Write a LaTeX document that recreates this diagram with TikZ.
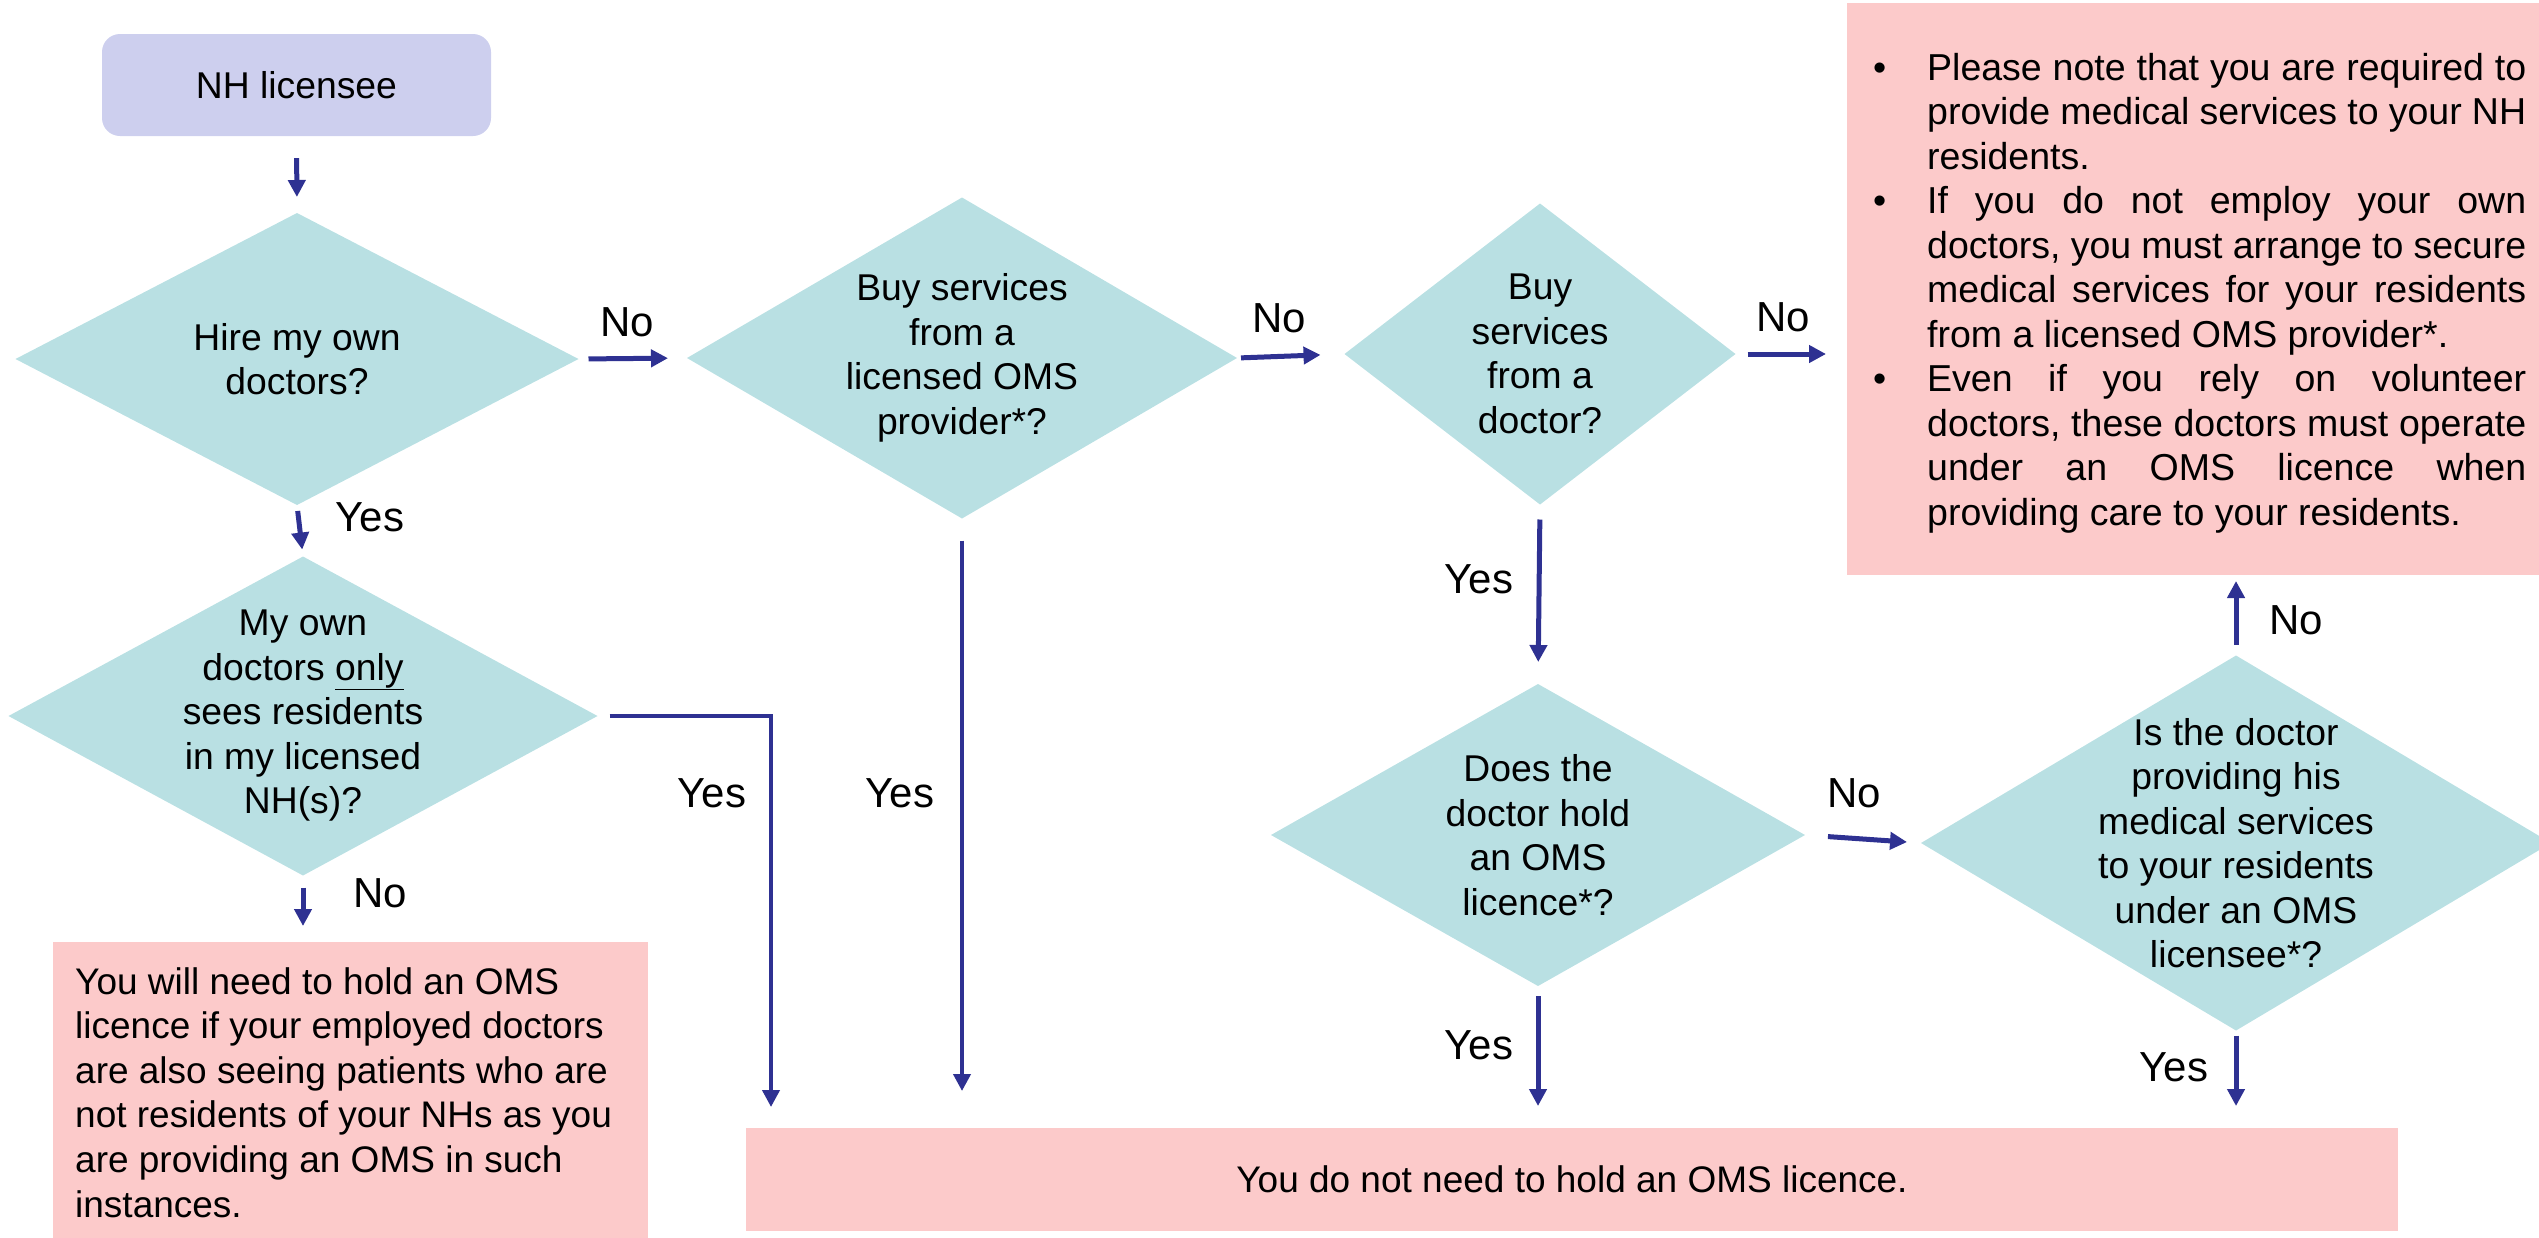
\documentclass[tikz,border=0pt]{standalone}
\usepackage{fontspec}
\setmainfont{Liberation Sans}
\usetikzlibrary{shapes.geometric,arrows.meta}
\definecolor{arrowblue}{RGB}{46,49,146}
\definecolor{diafill}{RGB}{185,224,227}
\definecolor{notefill}{RGB}{252,202,202}
\definecolor{startfill}{RGB}{205,207,238}
\newcommand\qfont{\fontsize{37.3pt}{44.5pt}\selectfont}
\newcommand\nfont{\fontsize{37pt}{44.6pt}\selectfont}
\newcommand\wfont{\fontsize{37.5pt}{44.5pt}\selectfont}
\newcommand\lfont{\fontsize{42pt}{48pt}\selectfont}
\newcommand\bitem[1]{{\hangindent=54pt\hangafter=1\noindent\makebox[54pt][l]{\textbullet}#1\par}}
\begin{document}
\begin{tikzpicture}[x=1pt,y=-1pt,
  dia/.style={diamond, fill=diafill, draw=none, inner sep=0pt, outer sep=0pt},
  dtext/.style={align=center, inner sep=0pt, font=\qfont},
  notebox/.style={fill=notefill, draw=none, anchor=north west, inner sep=0pt, outer sep=0pt},
  lbl/.style={inner sep=0pt, font=\lfont},
  arr/.style={draw=arrowblue, line width=5pt, -{Triangle[width=17pt,length=17pt]}}
]
\useasboundingbox (0,0) rectangle (2539,1237);
\clip (0,0) rectangle (2539,1237);

% start box
\node[fill=startfill, rounded corners=18pt, minimum width=389pt, minimum height=102pt,
      inner sep=0pt, font=\qfont] (nh) at (296.5,85) {NH licensee};

% decision diamonds
\node[dia, minimum width=563pt, minimum height=292pt] (d1) at (297,359) {};
\node[dtext] (t1) at (d1) {Hire my own\\doctors?};

\node[dia, minimum width=550pt, minimum height=321pt] (d2) at (962,358) {};
\node[dtext] (t2) at (d2) {Buy services\\from a\\licensed OMS\\provider*?};

\node[dia, minimum width=391pt, minimum height=301pt] (d3) at (1540,354) {};
\node[dtext] (t3) at (d3) {Buy\\services\\from a\\doctor?};

\node[dia, minimum width=534pt, minimum height=302pt] (d4) at (1538,835) {};
\node[dtext] (t4) at (d4) {Does the\\doctor hold\\an OMS\\licence*?};

\node[dia, minimum width=630pt, minimum height=375pt] (d5) at (2236,843) {};
\node[dtext] (t5) at (d5) {Is the doctor\\providing his\\medical services\\to your residents\\under an OMS\\licensee*?};

\node[dia, minimum width=589pt, minimum height=319pt] (d6) at (303,716) {};
\node[dtext] (t6) at (d6) {My own\\doctors \underline{only}\\sees residents\\in my licensed\\NH(s)?};

% outcome boxes
\node[notebox, minimum width=692pt, minimum height=572pt] (tr) at (1847,3) {};
\node[anchor=north west, inner sep=0pt, text width=653pt, align=justify, font=\wfont] (trtext) at (1873,53) {%
\hyphenpenalty=10000\exhyphenpenalty=10000
\bitem{Please note that you are required to\linebreak provide medical services to your NH\linebreak residents.}%
\bitem{If you do not employ your own\linebreak doctors, you must arrange to secure\linebreak medical services for your residents\linebreak from a licensed OMS provider*.}%
\bitem{Even if you rely on volunteer\linebreak doctors, these doctors must operate\linebreak under an OMS licence when\linebreak providing care to your residents.}};

\node[notebox, minimum width=595pt, minimum height=300pt] (bl) at (53,942) {};
\node[anchor=north west, inner sep=0pt, align=left, font=\nfont] (bltext) at (75,967)
  {You will need to hold an OMS\\licence if your employed doctors\\are also seeing patients who are\\not residents of your NHs as you\\are providing an OMS in such\\instances.};

\node[notebox, minimum width=1652pt, minimum height=103pt] (bot) at (746,1128) {};
\node[inner sep=0pt, font=\nfont] (bottext) at (bot.center) {You do not need to hold an OMS licence.};

% connectors
\draw[arr, shorten <=22pt, shorten >=16pt] (nh.south) -- (d1.north);
\draw[arr, shorten <=6pt, shorten >=7pt] (d1.south) -- (d6.north);
\draw[arr, shorten <=12pt, shorten >=16pt] (d6.south) -- (d6.south |- bl.north);
\draw[arr, shorten <=10pt, shorten >=19pt] (d1.east) -- (d2.west);
\draw[arr, shorten <=4pt, shorten >=24pt] (d2.east) -- (d3.west);
\draw[arr, shorten <=12pt, shorten >=21pt] (d3.east) -- (d3.east -| tr.west);
\draw[arr, shorten <=15pt, shorten >=22pt] (d3.south) -- (d4.north);
\draw[arr, shorten <=23pt, shorten >=14pt] (d4.east) -- (d5.west);
\draw[arr, shorten <=11pt, shorten >=6pt] (d5.north) -- (d5.north |- tr.south);
\draw[arr, shorten <=5pt, shorten >=22pt] (d5.south) -- (d5.south |- bot.north);
\draw[arr, shorten <=10pt, shorten >=22pt] (d4.south) -- (d4.south |- bot.north);
\draw[arr, line width=4pt, shorten <=22pt, shorten >=37pt] (d2.south) -- (d2.south |- bot.north);
\coordinate (c6) at (771,716);
\draw[arr, line width=4pt, shorten <=12pt, shorten >=21pt] (d6.east) -- (c6) -- (c6 |- bot.north);

% branch labels
\node[lbl] (l1) at (627,322) {No};
\node[lbl] (l2) at (370,517) {Yes};
\node[lbl] (l3) at (1279,318) {No};
\node[lbl] (l4) at (1783,317) {No};
\node[lbl] (l5) at (1479,579) {Yes};
\node[lbl] (l6) at (1854,793) {No};
\node[lbl] (l7) at (2296,620) {No};
\node[lbl] (l8) at (2174,1067) {Yes};
\node[lbl] (l9) at (1479,1045) {Yes};
\node[lbl] (l10) at (712,793) {Yes};
\node[lbl] (l11) at (900,793) {Yes};
\node[lbl] (l12) at (380,893) {No};
\end{tikzpicture}
\end{document}
